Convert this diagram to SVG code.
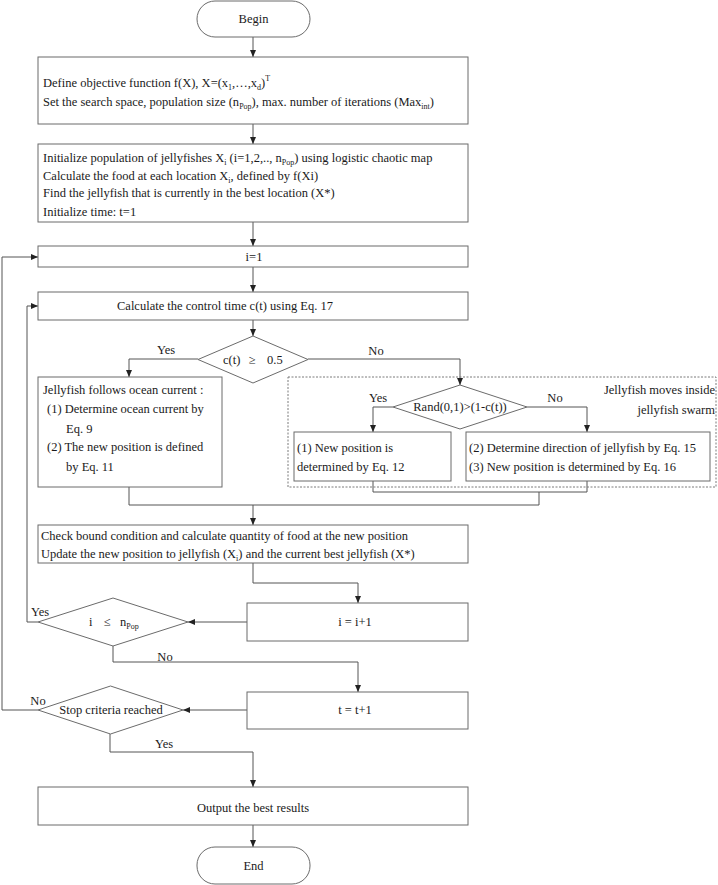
<svg xmlns="http://www.w3.org/2000/svg" width="718" height="885" viewBox="0 0 718 885">
<defs>
<marker id="ah" markerUnits="userSpaceOnUse" markerWidth="8" markerHeight="7" refX="7" refY="3" orient="auto">
<path d="M0,0 L7,3 L0,6 z" fill="#222"/>
</marker>
<style>
text{font-family:"Liberation Serif","Times New Roman",serif;font-size:12.5px;fill:#1a1a1a}
.box{fill:#fff;stroke:#6b6b6b;stroke-width:1}
.dash{fill:none;stroke:#7a7a7a;stroke-width:1;stroke-dasharray:2,1.5}
.c{text-anchor:middle}
.e{text-anchor:end}
.conn path{fill:none;stroke:#555;stroke-width:1}
.arr{marker-end:url(#ah)}
</style>
</defs>
<rect width="718" height="885" fill="#fff"/>

<g id="connectors" class="conn">
<path class="arr" d="M253,37 V57"/>
<path class="arr" d="M253,124 V144"/>
<path class="arr" d="M253,222 V246"/>
<path class="arr" d="M253,267 V292"/>
<path class="arr" d="M253,320 V336"/>
<path class="arr" d="M198,359 H129 V377"/>
<path class="arr" d="M308,359 H460 V385"/>
<path class="arr" d="M393,407 H373 V432"/>
<path class="arr" d="M527,407 H587 V432"/>
<path d="M373,481 V492 H587 V481"/>
<path d="M539,492 V505 H129 V487"/>
<path class="arr" d="M253,505 V525"/>
<path class="arr" d="M253,563 V583 H358 V603"/>
<path class="arr" d="M247,622 H188"/>
<path class="arr" d="M38,622 H27 V306 H38"/>
<path class="arr" d="M113,646 V662 H358 V692"/>
<path class="arr" d="M247,710 H183"/>
<path class="arr" d="M38,710 H2 V257 H38"/>
<path class="arr" d="M110,734 V752 H253 V787"/>
<path class="arr" d="M253,825 V847"/>
</g>

<g id="labels">
<text class="c" x="166" y="354">Yes</text>
<text class="c" x="376" y="355">No</text>
<text class="c" x="378" y="402">Yes</text>
<text class="c" x="555" y="402">No</text>
<text class="c" x="40" y="616">Yes</text>
<text class="c" x="165" y="661">No</text>
<text class="c" x="38" y="705">No</text>
<text class="c" x="164" y="748">Yes</text>
</g>

<g id="begin">
<rect class="box" x="197" y="1" width="113" height="36" rx="18" ry="18"/>
<text class="c" x="253.5" y="23">Begin</text>
</g>

<g id="define">
<rect class="box" x="38" y="57" width="430" height="67"/>
<text x="43" y="87">Define objective function f(X), X=(x<tspan font-size="8" baseline-shift="-3">1</tspan>,…,x<tspan font-size="8" baseline-shift="-3">d</tspan>)<tspan font-size="8" baseline-shift="6">T</tspan></text>
<text x="43" y="106">Set the search space, population size (n<tspan font-size="8" baseline-shift="-3">Pop</tspan>), max. number of iterations (Max<tspan font-size="8" baseline-shift="-3">int</tspan>)</text>
</g>

<g id="init">
<rect class="box" x="38" y="144" width="430" height="78"/>
<text x="43" y="162">Initialize population of jellyfishes X<tspan font-size="8" baseline-shift="-3">i</tspan> (i=1,2,.., n<tspan font-size="8" baseline-shift="-3">Pop</tspan>) using logistic chaotic map</text>
<text x="43" y="180">Calculate the food at each location X<tspan font-size="8" baseline-shift="-3">i</tspan>, defined by f(Xi)</text>
<text x="43" y="197">Find the jellyfish that is currently in the best location (X*)</text>
<text x="43" y="216">Initialize time: t=1</text>
</g>

<g id="i1">
<rect class="box" x="38" y="246" width="430" height="21"/>
<text class="c" x="254" y="261">i=1</text>
</g>

<g id="control">
<rect class="box" x="38" y="292" width="430" height="28"/>
<text x="117" y="310">Calculate the control time c(t) using Eq. 17</text>
</g>

<g id="dec-ct">
<polygon class="box" points="253,336 308,359.5 253,383 198,359.5"/>
<text x="223" y="364">c(t)</text>
<text x="249" y="364">≥</text>
<text x="267" y="364">0.5</text>
</g>

<g id="ocean">
<rect class="box" x="38" y="377" width="184" height="110"/>
<text x="43" y="394">Jellyfish follows ocean current :</text>
<text x="47" y="413">(1) Determine ocean current by</text>
<text x="66" y="433">Eq. 9</text>
<text x="47" y="451">(2) The new position is defined</text>
<text x="66" y="471">by Eq. 11</text>
</g>

<g id="swarm">
<rect class="dash" x="288" y="377" width="428" height="110"/>
<text class="e" x="715" y="394">Jellyfish moves inside</text>
<text class="e" x="715" y="414">jellyfish swarm</text>
</g>

<g id="dec-rand">
<polygon class="box" points="460,385 527,407 460,429 393,407"/>
<text class="c" x="460" y="411">Rand(0,1)&gt;(1-c(t))</text>
</g>

<g id="new12">
<rect class="box" x="294" y="432" width="157" height="49"/>
<text x="297" y="452">(1) New position is</text>
<text x="297" y="471">determined by Eq. 12</text>
</g>

<g id="new1516">
<rect class="box" x="466" y="432" width="244" height="49"/>
<text x="469" y="452">(2) Determine direction of jellyfish by  Eq. 15</text>
<text x="469" y="471">(3) New position is determined by Eq. 16</text>
</g>

<g id="check">
<rect class="box" x="38" y="525" width="430" height="38"/>
<text x="41" y="540">Check bound condition and calculate quantity of food at the new position</text>
<text x="41" y="558">Update the new position to jellyfish (X<tspan font-size="8" baseline-shift="-3">i</tspan>) and the current best jellyfish  (X*)</text>
</g>

<g id="dec-i">
<polygon class="box" points="113,598 188,622 113,646 38,622"/>
<text x="89" y="626">i</text>
<text x="104" y="626">≤</text>
<text x="120" y="626">n<tspan font-size="8" baseline-shift="-3">Pop</tspan></text>
</g>

<g id="inc-i">
<rect class="box" x="247" y="603" width="221" height="38"/>
<text class="c" x="355" y="626">i = i+1</text>
</g>

<g id="inc-t">
<rect class="box" x="247" y="692" width="221" height="37"/>
<text class="c" x="355" y="714">t = t+1</text>
</g>

<g id="dec-stop">
<polygon class="box" points="110.5,686 183,710 110.5,734 38,710"/>
<text class="c" x="111" y="714">Stop criteria reached</text>
</g>

<g id="output">
<rect class="box" x="38" y="787" width="430" height="38"/>
<text class="c" x="253" y="812">Output the best results</text>
</g>

<g id="end">
<rect class="box" x="197" y="847" width="113" height="37" rx="18" ry="18"/>
<text class="c" x="253.5" y="870">End</text>
</g>
</svg>
